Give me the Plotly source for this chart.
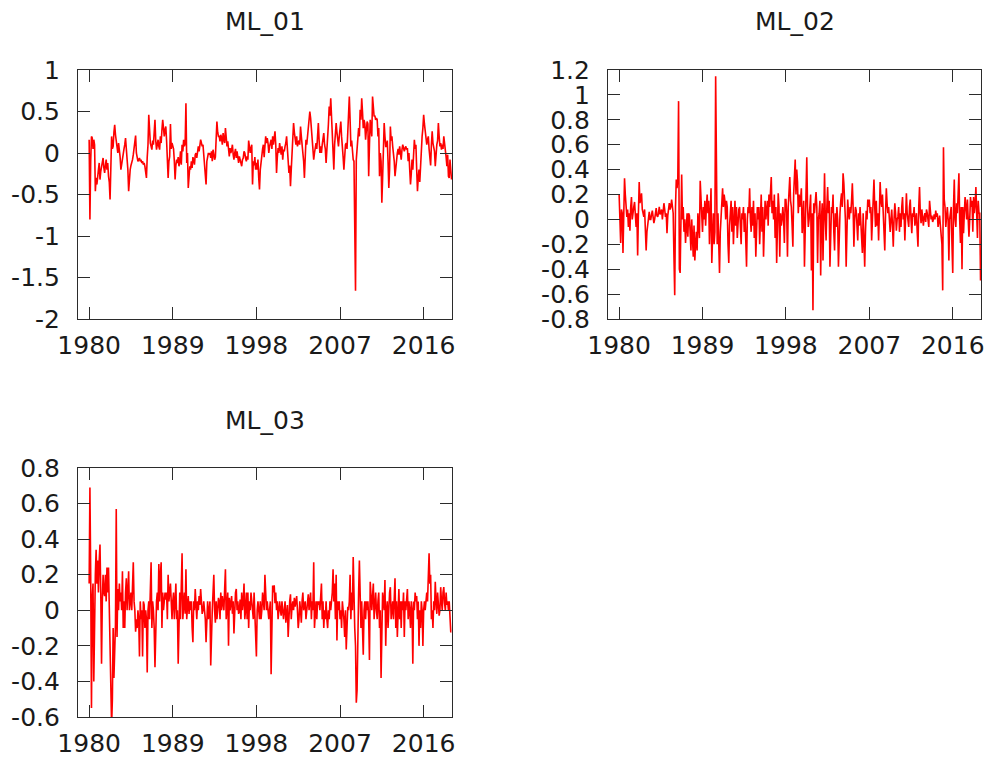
import plotly.graph_objects as go

# ---------------- data (monthly, Jan 1980 .. Jan 2019) ----------------
start_year = 1980
ml_01 = [
    0.16, -0.80, -0.10, 0.20, 0.18, 0.05, 0.16, 0.10, -0.46, -0.30, -0.38, -0.25,
    -0.20, -0.12, -0.32, -0.22, -0.16, -0.10, -0.06, -0.18, -0.24, -0.15, -0.08, -0.20,
    -0.12, -0.28, -0.35, -0.56, -0.10, 0.20, 0.05, 0.08, 0.25, 0.34, 0.22, 0.16,
    0.10, 0.00, 0.12, 0.06, -0.05, -0.20, -0.12, -0.08, -0.02, 0.05, 0.10, 0.18,
    0.05, -0.08, -0.20, -0.46, -0.30, -0.20, -0.15, -0.12, -0.08, -0.02, 0.08, 0.12,
    0.21, 0.00, -0.04, -0.10, -0.08, -0.06, -0.10, -0.08, -0.12, -0.10, -0.14, -0.12,
    -0.16, -0.22, -0.30, -0.05, 0.10, 0.46, 0.20, 0.12, 0.08, 0.04, 0.15, 0.10,
    0.25, 0.40, 0.15, 0.04, 0.10, 0.16, 0.08, 0.04, 0.20, 0.12, 0.28, 0.40,
    0.30, 0.20, 0.28, 0.32, 0.15, -0.05, -0.30, -0.10, -0.04, 0.35, 0.05, 0.12,
    0.08, 0.05, -0.10, -0.32, -0.15, -0.08, -0.12, -0.05, -0.16, -0.10, 0.02, -0.14,
    0.10, 0.02, 0.16, 0.08, 0.12, 0.60, -0.12, 0.00, -0.42, -0.25, -0.16, -0.20,
    -0.10, -0.18, -0.05, -0.08, -0.14, -0.02, 0.00, -0.06, 0.04, 0.08, 0.02, 0.10,
    0.16, 0.12, 0.08, 0.10, -0.05, -0.15, -0.25, -0.38, -0.10, -0.05, 0.00, -0.02,
    0.00, -0.06, 0.02, -0.10, 0.04, -0.02, -0.08, -0.05, 0.10, 0.38, 0.25, 0.20,
    0.20, 0.14, 0.22, 0.18, 0.10, 0.24, 0.16, 0.12, 0.30, 0.20, 0.08, 0.14,
    0.02, -0.04, 0.06, 0.00, 0.04, 0.10, -0.02, -0.08, 0.00, 0.05, -0.06, 0.02,
    -0.05, -0.12, -0.04, -0.08, -0.10, -0.16, -0.08, -0.06, 0.02, 0.00, -0.06, -0.10,
    -0.04, -0.08, 0.15, 0.05, 0.00, 0.06, 0.10, -0.38, -0.10, -0.15, -0.05, -0.20,
    -0.12, -0.20, -0.08, -0.30, -0.44, -0.20, -0.08, -0.02, 0.05, 0.10, -0.05, 0.08,
    0.20, 0.12, 0.18, 0.12, 0.00, 0.08, 0.14, 0.16, 0.05, 0.20, 0.10, 0.22,
    0.26, 0.10, -0.24, -0.05, 0.06, 0.00, 0.12, 0.05, -0.02, 0.08, -0.08, 0.04,
    0.02, 0.08, 0.12, 0.20, 0.05, -0.10, -0.24, -0.15, -0.40, -0.20, 0.05, 0.20,
    0.36, 0.25, 0.16, 0.10, 0.20, 0.08, 0.12, 0.15, 0.10, 0.32, 0.20, 0.10,
    0.05, -0.10, -0.30, 0.00, 0.16, 0.10, 0.20, 0.30, 0.40, 0.50, 0.42, 0.32,
    0.20, 0.05, -0.08, 0.00, 0.10, 0.12, 0.05, 0.25, 0.36, 0.15, 0.00, 0.08,
    0.00, 0.10, 0.18, 0.24, 0.10, 0.05, -0.12, 0.00, 0.15, 0.35, 0.56, 0.45,
    0.66, 0.40, 0.20, -0.05, -0.20, 0.10, 0.20, 0.36, 0.25, 0.15, 0.08, 0.20,
    0.30, 0.38, 0.20, 0.10, -0.05, -0.20, 0.00, 0.10, 0.12, 0.05, 0.25, 0.45,
    0.68, 0.40, 0.08, 0.15, 0.00, -0.08, -0.10, -0.84, -1.66, -0.08, 0.05, 0.08,
    0.30, 0.20, 0.52, 0.40, 0.66, 0.50, 0.30, 0.40, 0.35, 0.16, 0.30, 0.38,
    0.35, -0.28, 0.10, 0.40, 0.30, 0.20, 0.68, 0.50, 0.44, 0.45, 0.40, 0.42,
    0.40, 0.20, 0.30, -0.28, 0.00, -0.10, -0.60, -0.30, 0.00, 0.36, 0.20, 0.08,
    0.08, 0.15, -0.10, -0.42, -0.20, 0.32, 0.15, 0.20, 0.08, 0.00, -0.10, -0.28,
    -0.15, -0.05, 0.00, 0.05, -0.02, 0.08, 0.02, -0.08, 0.04, 0.10, 0.06, 0.02,
    0.06, 0.08, 0.04, 0.06, -0.10, 0.00, -0.20, -0.38, -0.25, -0.08, -0.20, 0.00,
    0.16, 0.05, 0.10, -0.20, -0.46, -0.30, -0.20, -0.35, -0.10, 0.00, 0.20, 0.30,
    0.46, 0.35, 0.24, 0.20, 0.10, 0.16, 0.20, 0.05, -0.04, -0.15, 0.10, 0.26,
    0.12, 0.05, 0.02, -0.16, 0.00, 0.10, 0.15, 0.36, 0.20, 0.08, 0.12, 0.04,
    0.10, 0.05, 0.20, 0.08, 0.04, -0.05, -0.16, -0.02, -0.28, -0.30, -0.08, -0.20,
    -0.32,
]
ml_02 = [
    0.20, 0.00, -0.19, 0.08, 0.05, -0.27, 0.10, 0.33, 0.20, 0.10, 0.02, 0.08,
    -0.06, 0.05, -0.09, 0.10, 0.18, 0.00, 0.07, 0.10, 0.14, 0.03, -0.06, 0.05,
    -0.29, 0.05, 0.30, 0.13, 0.20, 0.21, 0.08, 0.05, 0.02, 0.08, -0.10, -0.25,
    -0.10, -0.03, 0.02, 0.06, 0.00, 0.00, 0.04, 0.07, 0.02, -0.03, 0.00, 0.05,
    0.09, 0.03, 0.02, 0.05, 0.10, 0.04, 0.05, 0.08, 0.00, 0.06, 0.13, 0.08,
    0.02, 0.05, -0.11, 0.03, 0.10, 0.13, 0.08, 0.10, 0.16, 0.12, 0.05, -0.30,
    -0.61, 0.10, 0.32, 0.25, 0.33, 0.95, -0.40, -0.43, 0.20, 0.36, 0.00, 0.10,
    -0.10, 0.00, -0.19, 0.02, 0.05, -0.14, 0.05, 0.03, -0.10, -0.25, 0.00, -0.15,
    -0.30, -0.05, -0.33, -0.20, -0.10, -0.25, 0.05, -0.05, -0.15, 0.31, 0.20, 0.00,
    -0.10, 0.10, 0.00, 0.15, -0.05, 0.10, 0.20, 0.05, 0.15, -0.20, 0.10, 0.25,
    -0.35, -0.05, 0.05, -0.20, -0.10, 1.15, 0.00, -0.20, 0.05, -0.30, -0.43, -0.10,
    0.00, 0.10, 0.25, 0.10, 0.20, 0.15, 0.00, 0.15, 0.10, -0.20, -0.35, -0.05,
    0.05, 0.15, -0.10, 0.10, -0.20, 0.05, 0.15, -0.05, 0.10, -0.15, 0.00, 0.08,
    0.10, -0.05, -0.20, 0.05, 0.00, 0.10, -0.10, 0.05, -0.15, -0.38, 0.00, 0.10,
    0.05, 0.25, 0.00, -0.10, 0.10, -0.05, 0.15, -0.15, 0.05, -0.30, -0.10, 0.10,
    0.00, 0.10, -0.20, 0.05, 0.20, -0.10, 0.10, -0.30, 0.05, 0.15, 0.00, 0.10,
    0.15, -0.05, 0.20, 0.10, 0.25, 0.34, 0.05, 0.15, 0.00, 0.20, -0.15, 0.10,
    -0.35, 0.05, 0.21, 0.10, -0.30, 0.05, -0.05, 0.00, 0.10, 0.00, -0.19, 0.16,
    0.16, 0.05, -0.30, 0.10, 0.20, 0.34, 0.15, 0.10, -0.05, -0.22, 0.20, 0.30,
    0.48, 0.20, 0.40, 0.30, 0.05, 0.20, 0.10, 0.16, 0.25, -0.11, 0.05, 0.15,
    -0.38, -0.06, 0.15, 0.50, 0.10, -0.06, 0.00, 0.10, 0.20, -0.41, 0.05, -0.73,
    0.13, 0.05, 0.15, 0.22, 0.10, -0.35, 0.00, 0.05, 0.15, -0.45, 0.00, 0.13,
    -0.33, 0.10, 0.37, 0.00, -0.17, 0.10, 0.26, 0.05, 0.15, -0.38, 0.00, 0.10,
    0.05, 0.20, -0.10, -0.25, 0.05, -0.06, 0.10, 0.00, -0.38, -0.10, 0.05, 0.15,
    0.21, 0.10, 0.37, 0.29, 0.15, 0.00, -0.38, -0.10, 0.16, 0.05, 0.00, 0.10,
    0.05, 0.15, 0.29, 0.10, -0.22, 0.00, 0.10, 0.07, -0.05, -0.17, 0.05, -0.05,
    0.10, 0.00, -0.10, -0.27, 0.05, -0.15, -0.38, -0.10, 0.07, 0.00, 0.16, 0.10,
    0.16, 0.05, 0.10, -0.17, 0.00, 0.20, 0.32, 0.10, -0.06, 0.15, -0.05, 0.05,
    -0.17, 0.05, 0.30, 0.15, 0.10, 0.20, 0.00, -0.10, -0.25, 0.05, 0.25, 0.13,
    0.05, 0.10, 0.02, -0.10, 0.00, 0.08, -0.05, -0.22, 0.00, 0.13, 0.05, -0.09,
    0.00, 0.02, 0.10, -0.10, 0.05, -0.06, 0.10, 0.18, 0.00, 0.05, -0.17, 0.00,
    0.21, 0.05, -0.03, -0.06, 0.10, 0.16, 0.00, -0.11, 0.05, 0.02, 0.10, -0.05,
    0.00, 0.05, -0.10, -0.22, 0.10, 0.26, 0.05, -0.03, 0.08, 0.00, -0.05, 0.02,
    0.05, -0.02, 0.08, 0.05, 0.00, -0.06, 0.15, 0.05, 0.00, 0.03, -0.02, 0.00,
    0.04, 0.00, 0.07, 0.02, 0.05, -0.06, 0.00, 0.03, -0.05, -0.11, -0.20, -0.57,
    0.58, 0.16, 0.10, -0.06, 0.05, 0.10, 0.00, -0.33, 0.00, 0.05, 0.10, -0.20,
    -0.43, 0.10, 0.32, 0.00, -0.06, 0.13, 0.05, 0.20, 0.37, 0.00, -0.19, 0.10,
    -0.40, 0.10, -0.11, 0.05, 0.18, 0.10, 0.00, 0.16, 0.05, -0.14, 0.00, 0.18,
    0.10, 0.15, -0.10, 0.18, 0.05, 0.12, 0.26, 0.05, -0.15, 0.15, 0.05, 0.05,
    -0.49,
]
ml_03 = [
    0.15, 0.69, 0.20, -0.55, 0.07, 0.15, -0.40, 0.10, 0.20, 0.34, 0.15, 0.28,
    0.10, 0.28, 0.37, 0.10, -0.30, 0.05, 0.20, 0.10, 0.08, 0.20, 0.05, 0.24,
    0.10, 0.24, 0.05, -0.10, -0.30, -0.65, -0.50, -0.10, -0.38, -0.10, -0.08, 0.57,
    -0.15, 0.12, 0.00, 0.15, 0.05, 0.10, 0.00, 0.22, -0.10, 0.05, -0.10, 0.10,
    0.18, 0.00, 0.10, 0.22, 0.00, 0.05, 0.10, 0.00, 0.15, 0.27, 0.05, 0.00,
    -0.12, -0.05, -0.10, 0.00, -0.05, -0.26, 0.05, -0.05, 0.00, -0.26, 0.05, 0.03,
    -0.10, 0.00, -0.05, -0.35, 0.00, 0.05, -0.05, 0.15, 0.27, -0.10, 0.05, 0.00,
    -0.10, -0.32, 0.00, 0.05, 0.10, 0.00, 0.26, 0.05, 0.20, 0.27, -0.10, 0.10,
    0.00, 0.05, 0.10, 0.06, 0.10, -0.05, 0.20, 0.05, 0.10, 0.15, 0.05, -0.05,
    0.05, 0.10, -0.05, 0.05, 0.15, -0.05, 0.00, -0.30, 0.00, 0.10, -0.05, 0.10,
    0.32, -0.05, 0.05, 0.10, -0.02, 0.23, -0.05, 0.05, 0.08, -0.02, 0.05, 0.00,
    0.05, -0.10, -0.18, 0.05, 0.00, 0.12, 0.00, -0.05, 0.05, 0.00, 0.08, 0.03,
    0.12, 0.05, -0.02, 0.00, 0.05, 0.00, -0.05, -0.18, 0.00, 0.05, -0.05, 0.03,
    0.05, -0.31, -0.05, 0.00, 0.10, 0.20, 0.00, -0.07, 0.05, -0.05, 0.00, 0.07,
    0.05, -0.05, 0.10, 0.00, 0.08, 0.05, 0.00, 0.12, 0.23, -0.05, 0.05, 0.10,
    -0.20, 0.07, 0.00, 0.05, 0.08, -0.02, 0.05, -0.13, 0.00, 0.10, 0.12, 0.00,
    0.05, -0.02, 0.00, 0.06, -0.05, 0.10, 0.00, 0.05, 0.15, -0.05, 0.00, 0.10,
    -0.05, 0.10, -0.10, 0.05, 0.00, 0.10, 0.05, 0.00, -0.05, 0.10, 0.00, -0.10,
    -0.26, 0.00, 0.05, 0.00, -0.05, 0.05, -0.05, 0.00, 0.10, 0.05, 0.00, 0.20,
    0.10, 0.00, 0.05, 0.00, -0.05, 0.00, 0.05, -0.36, 0.00, 0.14, 0.10, 0.14,
    0.04, 0.10, 0.00, 0.05, -0.05, 0.00, 0.05, 0.00, -0.03, 0.05, 0.00, -0.05,
    0.00, 0.05, -0.07, 0.00, 0.03, -0.15, 0.00, 0.05, 0.09, -0.05, 0.02, 0.05,
    0.00, 0.07, 0.02, 0.05, 0.08, 0.00, -0.10, -0.05, 0.05, 0.00, -0.07, 0.05,
    0.10, 0.00, 0.02, 0.05, -0.05, 0.00, 0.03, 0.09, 0.00, 0.05, 0.10, -0.05,
    0.05, 0.00, 0.27, -0.10, 0.00, 0.05, -0.05, 0.05, 0.03, 0.05, 0.00, 0.10,
    0.15, -0.05, 0.05, -0.10, 0.00, -0.05, 0.05, -0.05, -0.10, 0.00, -0.05, 0.05,
    0.00, 0.05, 0.10, 0.23, 0.05, 0.15, -0.05, 0.20, -0.17, 0.05, 0.00, 0.05,
    -0.05, 0.00, -0.10, 0.05, 0.00, -0.05, -0.15, 0.00, -0.22, -0.05, 0.02, 0.00,
    0.05, 0.20, -0.05, 0.10, 0.00, 0.30, 0.05, -0.10, -0.20, -0.52, -0.45, -0.05,
    0.10, 0.28, 0.00, -0.10, 0.05, -0.10, -0.25, 0.00, 0.05, -0.05, 0.05, 0.00,
    0.05, -0.05, -0.28, 0.16, 0.05, 0.00, 0.08, 0.15, -0.05, 0.05, 0.10, 0.00,
    -0.05, 0.05, 0.10, -0.10, 0.00, -0.38, 0.00, 0.10, 0.05, 0.00, 0.17, -0.20,
    0.00, 0.05, -0.10, 0.05, 0.10, 0.13, -0.05, 0.00, 0.05, -0.05, 0.10, 0.18,
    -0.10, 0.05, -0.15, 0.00, 0.12, -0.05, 0.05, -0.10, 0.05, 0.00, 0.10, -0.15,
    0.05, 0.00, 0.10, 0.12, -0.05, 0.05, 0.00, -0.10, 0.05, 0.00, -0.30, 0.05,
    0.00, 0.10, 0.05, 0.08, -0.05, 0.05, -0.20, 0.00, -0.10, 0.05, 0.00, -0.20,
    0.00, 0.05, 0.00, 0.05, 0.10, 0.05, 0.20, 0.32, 0.15, 0.20, -0.05, 0.00,
    -0.10, 0.05, 0.00, 0.16, 0.05, -0.02, 0.10, 0.05, -0.03, 0.00, 0.13, 0.05,
    0.00, 0.10, 0.13, 0.04, 0.00, 0.10, 0.03, 0.05, 0.00, 0.05, -0.05, -0.12,
    -0.12,
]

titles = ["ML_01", "ML_02", "ML_03"]
x_tickvals = [1980, 1989, 1998, 2007, 2016]
x_ticktext = ["1980", "1989", "1998", "2007", "2016"]
y1_ticks = [1, 0.5, 0, -0.5, -1, -1.5, -2]
y1_text = ["1", "0.5", "0", "-0.5", "-1", "-1.5", "-2"]
y2_ticks = [1.2, 1, 0.8, 0.6, 0.4, 0.2, 0, -0.2, -0.4, -0.6, -0.8]
y2_text = ["1.2", "1", "0.8", "0.6", "0.4", "0.2", "0", "-0.2", "-0.4", "-0.6", "-0.8"]
y3_ticks = [0.8, 0.6, 0.4, 0.2, 0, -0.2, -0.4, -0.6]
y3_text = ["0.8", "0.6", "0.4", "0.2", "0", "-0.2", "-0.4", "-0.6"]

def months(series):
    return [start_year + i / 12.0 for i in range(len(series))]

W, H = 995, 760
FONT = "DejaVu Sans, Verdana, sans-serif"
FS = 25
AXC = "#2b2b2b"
TXT = "#1a1a1a"

fig = go.Figure()
series = [ml_01, ml_02, ml_03]
for k, s in enumerate(series):
    fig.add_trace(go.Scatter(
        x=months(s), y=s, mode="lines",
        line=dict(color="#ff0000", width=1.6),
        xaxis="x" if k == 0 else f"x{k+1}",
        yaxis="y" if k == 0 else f"y{k+1}",
        showlegend=False, hoverinfo="skip",
    ))

def xdom(a, b):
    return [a / W, b / W]

def ydom(top, bottom):
    return [1 - bottom / H, 1 - top / H]

panels = [
    dict(x=(78, 452), y=(70, 319), yr=(-2, 1), yt=y1_ticks, ytt=y1_text),
    dict(x=(608, 981), y=(70, 319), yr=(-0.8, 1.2), yt=y2_ticks, ytt=y2_text),
    dict(x=(78, 452), y=(468, 717), yr=(-0.6, 0.8), yt=y3_ticks, ytt=y3_text),
]

layout = dict(
    template="none",
    width=W, height=H, autosize=False,
    margin=dict(l=0, r=0, t=0, b=0, pad=0, autoexpand=False),
    paper_bgcolor="white", plot_bgcolor="white",
    font=dict(family=FONT, size=FS, color=TXT),
    showlegend=False,
)
common = dict(
    showline=True, linecolor=AXC, linewidth=1.2, mirror="allticks",
    ticks="inside", ticklen=12, tickwidth=1.2, tickcolor=AXC,
    showgrid=False, zeroline=False, automargin=False,
    tickfont=dict(family=FONT, size=FS, color=TXT),
)
annotations = []
for k, p in enumerate(panels):
    xs = "xaxis" if k == 0 else f"xaxis{k+1}"
    ys = "yaxis" if k == 0 else f"yaxis{k+1}"
    xa = "x" if k == 0 else f"x{k+1}"
    ya = "y" if k == 0 else f"y{k+1}"
    layout[xs] = dict(common, domain=xdom(*p["x"]),
                      range=[1978.8, 2019.05], anchor=ya,
                      tickmode="array", tickvals=x_tickvals, ticktext=x_ticktext,
                      ticklabelstandoff=4)
    layout[ys] = dict(common, domain=ydom(*p["y"]),
                      range=list(p["yr"]), anchor=xa,
                      tickmode="array", tickvals=p["yt"], ticktext=p["ytt"],
                      ticklabelstandoff=12)
    annotations.append(dict(
        text=titles[k], xref="paper", yref="paper",
        x=(p["x"][0] + p["x"][1]) / 2 / W,
        y=1 - (p["y"][0] - 48) / H,
        xanchor="center", yanchor="middle", showarrow=False,
        font=dict(family=FONT, size=FS, color=TXT),
    ))
layout["annotations"] = annotations
fig.update_layout(**layout)

fig.write_html("out.html")
